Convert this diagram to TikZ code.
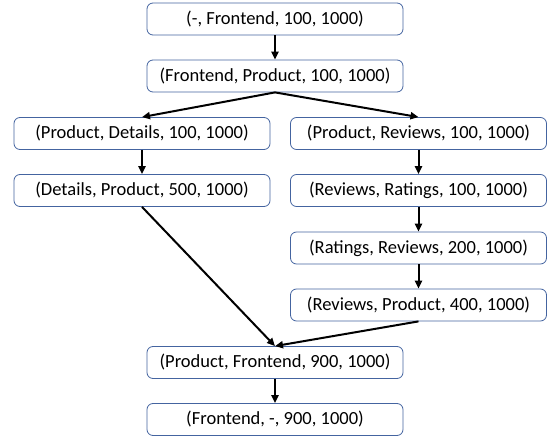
\documentclass[tikz,border=0pt]{standalone}
\usepackage{fontspec}
\setmainfont{Carlito}
\usetikzlibrary{arrows.meta}
\definecolor{bord}{RGB}{68,100,160}

\begin{document}
\begin{tikzpicture}[x=1pt,y=-1pt,
    boite/.style={draw=bord,line width=0.8pt,rounded corners=6pt,minimum width=256pt,
      minimum height=32pt,inner sep=0pt,font=\fontsize{18.5}{21}\selectfont},
    fl/.style={line width=2pt,-{Triangle[length=8pt,width=7pt]}}]
  \useasboundingbox (0,0) rectangle (547,438);
  % colonne du milieu
  \node[boite] (fe) at (275,19) {(-, Frontend, 100, 1000)};
  \node[boite] (fp) at (275,76) {(Frontend, Product, 100, 1000)};
  % branche de gauche
  \node[boite] (pd) at (142,133.5) {(Product, Details, 100, 1000)};
  \node[boite] (dp) at (142,190.5) {(Details, Product, 500, 1000)};
  % branche de droite
  \node[boite] (pr) at (418.5,133.5) {(Product, Reviews, 100, 1000)};
  \node[boite] (rr) at (418.5,190.5) {(Reviews, Ratings, 100, 1000)};
  \node[boite] (ra) at (418.5,248) {(Ratings, Reviews, 200, 1000)};
  \node[boite] (rp) at (418.5,305) {(Reviews, Product, 400, 1000)};
  % retour
  \node[boite] (pf) at (275,362.5) {(Product, Frontend, 900, 1000)};
  \node[boite] (ff) at (275,419.5) {(Frontend, -, 900, 1000)};
  \draw[fl] (fe) -- (fp);
  \draw[fl] (fp.south) -- (pd.north);
  \draw[fl] (fp.south) -- (pr.north);
  \draw[fl] (pd) -- (dp);
  \draw[fl] (pr) -- (rr);
  \draw[fl] (rr) -- (ra);
  \draw[fl] (ra) -- (rp);
  \draw[fl] (dp.south) -- (pf.north);
  \draw[fl] (rp.south) -- (pf.north);
  \draw[fl] (pf) -- (ff);
\end{tikzpicture}
\end{document}
